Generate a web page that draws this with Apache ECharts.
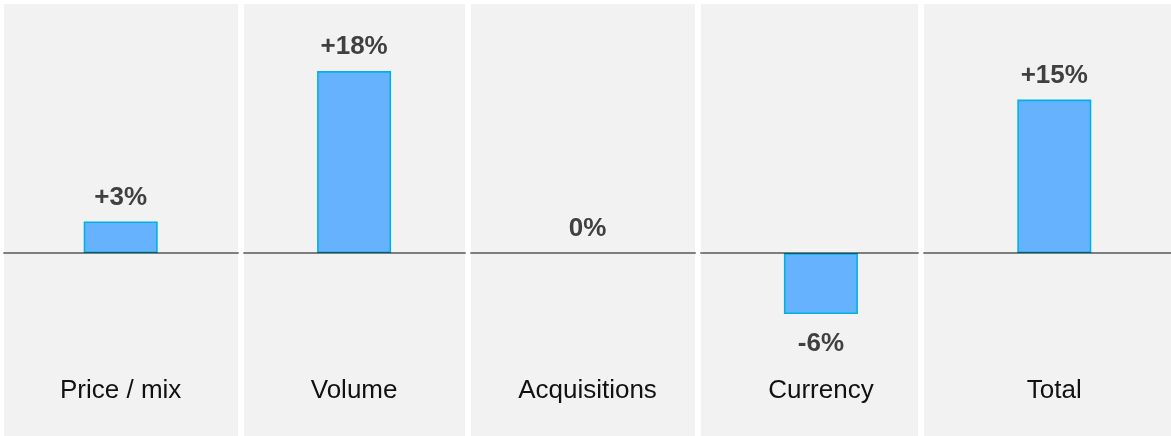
<!DOCTYPE html>
<html>
<head>
<meta charset="utf-8">
<title>Sales growth bridge</title>
<script src="https://cdn.jsdelivr.net/npm/echarts@6/dist/echarts.min.js"></script>
<style>
  html, body { margin: 0; padding: 0; background: #ffffff; }
  #chart { width: 1171px; height: 436px; }
</style>
</head>
<body>
<div id="chart"></div>
<script>
// Growth components, in percent
const categories = ['Price / mix', 'Volume', 'Acquisitions', 'Currency', 'Total'];
const changes = [3.1, 17.9, 0, -6.0, 15.1];

// Shared value range for every panel so the zero line lines up
const yMin = -18;
const yMax = 24.5;

// Card layout behind the bars (left edge and width of each grey card)
const cards = [
  { left: 4, width: 234 },
  { left: 244, width: 221 },
  { left: 471, width: 224 },
  { left: 701, width: 217 },
  { left: 924, width: 247 }
];

const FONT = "'Liberation Sans', Arial, Helvetica, sans-serif";

function pct(v) {
  const r = Math.round(v);
  return (r > 0 ? '+' : '') + r + '%';
}

const grids = [];
const xAxes = [];
const yAxes = [];

// Background cards, each with its own zero line
cards.forEach((c, i) => {
  grids.push({
    left: c.left, width: c.width, top: 4, bottom: 0,
    show: true, backgroundColor: '#f2f2f2', borderWidth: 0, z: 0
  });
  xAxes.push({
    gridIndex: i, type: 'value', min: 0, max: 1,
    z: 6,
    axisLine: { show: true, onZero: true, lineStyle: { color: 'rgba(0,0,0,0.48)', width: 2 } },
    axisTick: { show: false }, axisLabel: { show: false }, splitLine: { show: false }
  });
  yAxes.push({
    gridIndex: i, type: 'value', min: yMin, max: yMax, show: false,
    splitLine: { show: false }
  });
});

// Main plotting grid spanning all cards
const mainIdx = cards.length;
grids.push({ left: 4, right: 0, top: 4, bottom: 0, show: false });
xAxes.push({
  gridIndex: mainIdx, type: 'category', data: categories,
  axisLine: { show: false }, axisTick: { show: false }, splitLine: { show: false },
  axisLabel: {
    inside: true, margin: 32, interval: 0,
    color: '#111111', fontFamily: FONT, fontSize: 26
  }
});
yAxes.push({
  gridIndex: mainIdx, type: 'value', min: yMin, max: yMax, show: false,
  splitLine: { show: false }
});

const barData = changes.map(v => ({
  value: v,
  itemStyle: v === 0 ? { borderWidth: 0 } : {},
  label: v < 0 ? { position: 'bottom', distance: 17 } : { position: 'top', distance: 11 }
}));

const option = {
  animation: false,
  backgroundColor: '#ffffff',
  grid: grids,
  xAxis: xAxes,
  yAxis: yAxes,
  series: [{
    type: 'bar',
    xAxisIndex: mainIdx,
    yAxisIndex: mainIdx,
    data: barData,
    barWidth: 74,
    z: 2,
    itemStyle: { color: '#66b2ff', borderColor: '#00b2e2', borderWidth: 1.6 },
    label: {
      show: true,
      formatter: p => pct(p.value),
      color: '#404040',
      fontFamily: FONT,
      fontSize: 26,
      fontWeight: 'bold'
    }
  }]
};

const chart = echarts.init(document.getElementById('chart'), null, { renderer: 'canvas' });
chart.setOption(option);
</script>
</body>
</html>
